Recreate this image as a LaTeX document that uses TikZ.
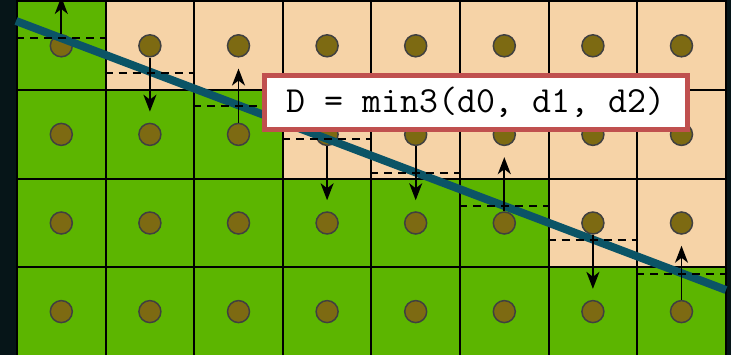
\documentclass[tikz,border=0pt]{standalone}
\usetikzlibrary{arrows.meta}
\definecolor{Night}{HTML}{061518}
\definecolor{Grass}{HTML}{5CB500}
\definecolor{Peach}{HTML}{F6D3A7}
\definecolor{Olive}{HTML}{7D6A12}
\definecolor{Rim}{HTML}{404040}
\definecolor{Teal}{HTML}{0B5466}
\definecolor{Brick}{HTML}{C0504F}
\tikzset{
  cell/.style={
    draw=black,
    line width=2pt,
    fill=#1,
    inner sep=0pt,
    minimum width=88.6pt,
    minimum height=88.6pt
  },
  dot/.style={
    circle,
    draw=Rim,
    line width=1.5pt,
    fill=Olive,
    inner sep=0pt,
    minimum size=22pt
  },
  cutline/.style={
    draw=black,
    line width=1.6pt,
    dash pattern=on 8pt off 6pt
  },
  moveto/.style={
    -{Stealth[length=17pt,width=13pt,inset=5pt]},
    line width=1.8pt,
    shorten >=11pt
  },
  edgeline/.style={
    draw=Teal,
    line width=8pt
  },
  formula/.style={
    draw=Brick,
    line width=5pt,
    fill=white,
    minimum width=423pt,
    minimum height=54pt,
    font=\ttfamily\fontsize{36.8}{42}\selectfont
  }
}

\begin{document}
\begin{tikzpicture}[x=1pt,y=-1pt]

% Backdrop.
\fill[Night] (0,0) rectangle (731,355);
\useasboundingbox (0,0) rectangle (731,355);

% Grid cells: peach from column \k onwards.
\foreach \r/\k in {0/1,1/3,2/6,3/8}{
  \foreach \c in {0,...,7}{
    \ifnum\c<\k \def\tone{Grass}\else\def\tone{Peach}\fi
    \node[cell=\tone] (cell-\c-\r) at ({61.3+88.6*\c},{45.8+88.6*\r}) {};
  }
}

% Sample points.
\foreach \c in {0,...,7}{
  \foreach \r in {0,...,3}{
    \node[dot] (dot-\c-\r) at (cell-\c-\r.center) {};
  }
}

% The edge.
\coordinate (edgeA) at (16,21);
\coordinate (edgeB) at (726,290);
\draw[edgeline] (edgeA) -- (edgeB);

% Crossing heights.
\foreach \c/\r/\y in {0/0/38,1/0/73,2/1/106,3/1/139,4/1/173,5/2/206,6/2/240,7/3/274}
  \draw[cutline] (cell-\c-\r.west |- 0,\y) -- (cell-\c-\r.east |- 0,\y);

% Moves across the edge.
\coordinate (above-0) at (61.3,-14);
\draw[moveto] (dot-0-0) -- (above-0);
\foreach \c/\r/\t in {1/0/1,2/1/0,3/1/2,4/1/2,5/2/1,6/2/3,7/3/2}
  \draw[moveto] (dot-\c-\r) -- (dot-\c-\t);

% Formula.
\node[formula] (rule) at (476,102.5) {D = min3(d0, d1, d2)};

\end{tikzpicture}
\end{document}
